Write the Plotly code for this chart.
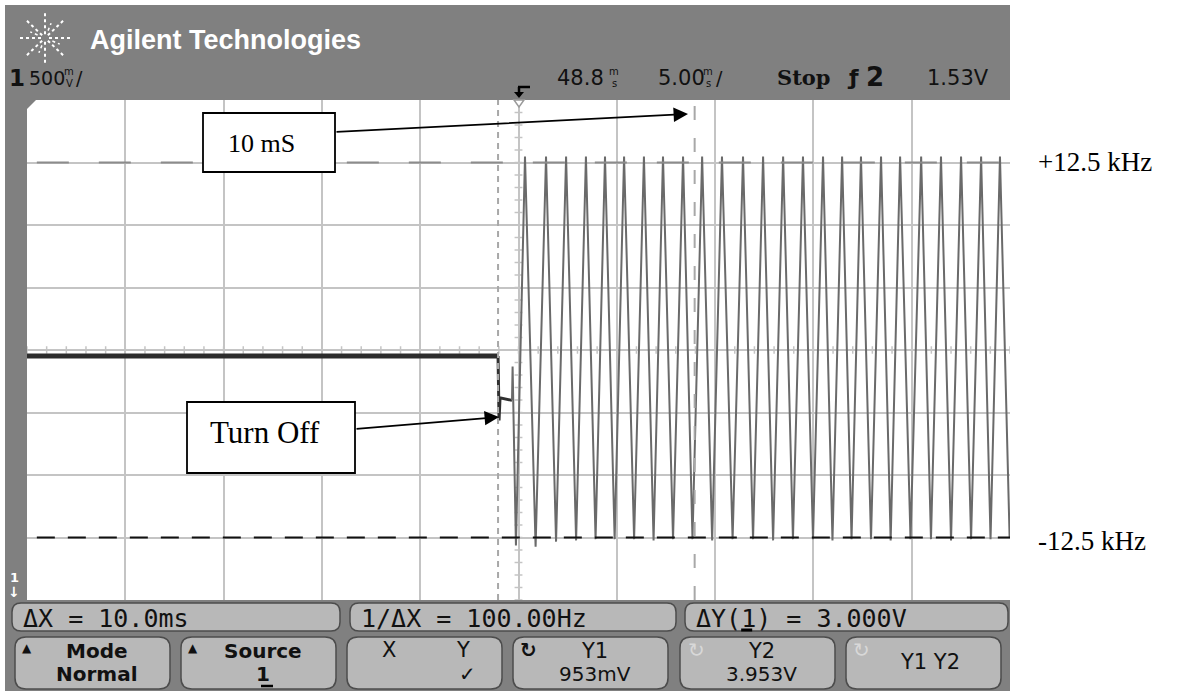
import math
import plotly.graph_objects as go

W, H = 1187, 691
L, R, T, B = 27, 1010, 100, 600   # white screen area in page pixels

# ---------------- data (time in ms, 5 ms/div; volts, 500 mV/div) ----------------
x_range = [0.0, 50.0]
y_range = [0.453, 4.453]

pre_t = [0.0, 23.96]
pre_v = [2.405, 2.405]

turnoff_t = [23.96, 24.01, 24.06, 24.67]
turnoff_v = [2.405, 1.89, 2.07, 2.05]

start_t = [24.67, 24.70]
start_v = [2.05, 2.32]

trough_t = [24.87, 25.87, 26.91, 27.93, 28.92, 29.89, 30.88, 31.87, 32.86, 33.85,
            34.85, 35.89, 36.93, 37.95, 38.96, 39.98, 40.97, 41.94, 42.93, 43.93,
            44.94, 45.98, 47.00, 48.02, 49.01, 49.98]
trough_v = [0.89, 0.88, 0.92, 0.93, 0.94, 0.94, 0.94, 0.93, 0.94, 0.94,
            0.93, 0.94, 0.94, 0.93, 0.94, 0.94, 0.93, 0.94, 0.94, 0.93,
            0.94, 0.94, 0.93, 0.94, 0.94, 0.95]
peak_t = [25.33, 26.40, 27.42, 28.43, 29.40, 30.37, 31.38, 32.35, 33.37, 34.34,
          35.35, 36.42, 37.44, 38.46, 39.47, 40.49, 41.46, 42.42, 43.44, 44.41,
          45.48, 46.49, 47.51, 48.53, 49.49]
peak_v = [4.00, 4.00, 4.00, 4.00, 4.00, 4.00, 4.00, 4.00, 4.00, 4.00,
          4.00, 4.00, 4.00, 4.00, 4.00, 4.00, 4.00, 4.00, 4.00, 4.00,
          4.00, 4.00, 4.00, 4.00, 4.00]

cursor_x = [23.96, 33.96]     # X1, X2 (ΔX = 10.0 ms)
cursor_y = [0.953, 3.953]     # Y1, Y2 (ΔY = 3.000 V)
trigger_t = 25.0
center_v = 2.453

header_title = "Agilent Technologies"
row1_labels = ["ΔX = 10.0ms", "1/ΔX = 100.00Hz", "ΔY(1) = 3.000V"]
btn_top = ["Mode", "Source", "", "Y1", "Y2", "Y1 Y2"]
btn_bot = ["Normal", "1", "", "953mV", "3.953V", ""]

# ---------------- build waveform from the read vertices ----------------
osc_t = list(start_t)
osc_v = list(start_v)
for i in range(len(trough_t)):
    osc_t.append(trough_t[i]); osc_v.append(trough_v[i])
    if i < len(peak_t):
        osc_t.append(peak_t[i]); osc_v.append(peak_v[i])


def px(X):
    return (X - L) / (R - L)


def py(Y):
    return (B - Y) / (B - T)


fig = go.Figure()
fig.add_trace(go.Scatter(x=pre_t, y=pre_v, mode="lines",
                         line=dict(color="#2c2c2c", width=5), hoverinfo="skip"))
fig.add_trace(go.Scatter(x=turnoff_t, y=turnoff_v, mode="lines",
                         line=dict(color="#303030", width=3), hoverinfo="skip"))
fig.add_trace(go.Scatter(x=osc_t, y=osc_v, mode="lines",
                         line=dict(color="#6a6a6a", width=2), hoverinfo="skip"))

shapes = []
annos = []

# outer gray bezel and white screen
shapes.append(dict(type="rect", xref="paper", yref="paper", layer="below",
                   x0=px(5), x1=px(R), y0=py(H + 5), y1=py(5),
                   fillcolor="#808080", line=dict(width=0)))
shapes.append(dict(type="rect", xref="paper", yref="paper", layer="below",
                   x0=0, x1=1, y0=0, y1=1, fillcolor="white", line=dict(width=0)))
# cut corner top-left
shapes.append(dict(type="path", xref="paper", yref="paper", layer="above",
                   path=f"M {px(L)} {py(T)} L {px(L+9)} {py(T)} L {px(L)} {py(T+9)} Z",
                   fillcolor="#808080", line=dict(width=0)))

# center axes minor ticks
gray = "#c4c4c4"
for k in range(0, 51):
    t = k * 1.0
    shapes.append(dict(type="line", xref="x", yref="y", layer="below",
                       x0=t, x1=t, y0=center_v - 0.03, y1=center_v + 0.03,
                       line=dict(color=gray, width=1.5)))
for k in range(0, 41):
    v = y_range[0] + k * 0.1
    shapes.append(dict(type="line", xref="x", yref="y", layer="below",
                       x0=trigger_t - 0.2, x1=trigger_t + 0.2, y0=v, y1=v,
                       line=dict(color=gray, width=1.5)))

# cursors
shapes.append(dict(type="line", xref="x", yref="paper", x0=cursor_x[0], x1=cursor_x[0],
                   y0=0, y1=1, line=dict(color="#a8a8a8", width=2, dash="6px,5px")))
shapes.append(dict(type="line", xref="x", yref="paper", x0=cursor_x[1], x1=cursor_x[1],
                   y0=0, y1=1, line=dict(color="#a8a8a8", width=2, dash="14px,18px")))
shapes.append(dict(type="line", xref="paper", yref="y", x0=0.01, x1=1, y0=cursor_y[1],
                   y1=cursor_y[1], line=dict(color="#8c8c8c", width=2, dash="32px,30px")))
shapes.append(dict(type="line", xref="paper", yref="y", x0=0.01, x1=1, y0=cursor_y[0],
                   y1=cursor_y[0], line=dict(color="#111111", width=2, dash="18px,13px")))

# trigger marker on top of the grid
shapes.append(dict(type="path", xref="paper", yref="paper",
                   path=f"M {px(514)} {py(100)} L {px(524)} {py(100)} L {px(519)} {py(107)} Z",
                   fillcolor="white", line=dict(color="#9a9a9a", width=1.5)))
# trigger symbol in header
shapes.append(dict(type="line", xref="paper", yref="paper", x0=px(518), x1=px(530),
                   y0=py(87), y1=py(87), line=dict(color="black", width=2.5)))
shapes.append(dict(type="line", xref="paper", yref="paper", x0=px(519), x1=px(519),
                   y0=py(87), y1=py(93), line=dict(color="black", width=2.5)))
shapes.append(dict(type="path", xref="paper", yref="paper",
                   path=f"M {px(514)} {py(92)} L {px(524)} {py(92)} L {px(519)} {py(98)} Z",
                   fillcolor="black", line=dict(width=0)))

# logo starburst
cx, cy = 45, 38
for a in range(0, 360, 45):
    ca, sa = math.cos(math.radians(a)), math.sin(math.radians(a))
    shapes.append(dict(type="line", xref="paper", yref="paper",
                       x0=px(cx + 4 * ca), x1=px(cx + 27 * ca),
                       y0=py(cy + 4 * sa * 0.95), y1=py(cy + 27 * sa * 0.95),
                       line=dict(color="white", width=2, dash="dot")))
for a in range(0, 360, 90):
    ca, sa = math.cos(math.radians(a + 22.5)), math.sin(math.radians(a + 22.5))
    shapes.append(dict(type="line", xref="paper", yref="paper",
                       x0=px(cx + 8 * ca), x1=px(cx + 16 * ca),
                       y0=py(cy + 8 * sa), y1=py(cy + 16 * sa),
                       line=dict(color="white", width=1.5, dash="dot")))


def rrect(x0, y0, x1, y1, r, fill="#b8b8b8", line="#4c4c4c"):
    rx = r
    p = (f"M {px(x0+rx)} {py(y0)} L {px(x1-rx)} {py(y0)} "
         f"Q {px(x1)} {py(y0)} {px(x1)} {py(y0+r)} L {px(x1)} {py(y1-r)} "
         f"Q {px(x1)} {py(y1)} {px(x1-rx)} {py(y1)} L {px(x0+rx)} {py(y1)} "
         f"Q {px(x0)} {py(y1)} {px(x0)} {py(y1-r)} L {px(x0)} {py(y0+r)} "
         f"Q {px(x0)} {py(y0)} {px(x0+rx)} {py(y0)} Z")
    return dict(type="path", xref="paper", yref="paper", path=p,
                fillcolor=fill, line=dict(color=line, width=1.5))


def text(X, Y, s, size=20, color="#111111", family="DejaVu Sans", xanchor="left",
         yanchor="middle", bold=False):
    if bold:
        s = f"<b>{s}</b>"
    annos.append(dict(x=px(X), y=py(Y), xref="paper", yref="paper", text=s,
                      showarrow=False, xanchor=xanchor, yanchor=yanchor,
                      font=dict(size=size, color=color, family=family)))


# header texts
text(88, 40, header_title, size=27, color="white", family="Liberation Sans", bold=True)
text(7, 78, "1", size=23, family="DejaVu Sans", bold=True)
text(27, 78, "500", size=19)
text(69, 72, "m", size=10, xanchor="center")
text(69, 84, "V", size=10, xanchor="center")
text(74, 78, "/", size=19)
text(555, 78, "48.8", size=21)
text(614, 72, "m", size=10, xanchor="center")
text(614, 84, "s", size=10, xanchor="center")
text(656, 78, "5.00", size=21)
text(708, 72, "m", size=10, xanchor="center")
text(708, 84, "s", size=10, xanchor="center")
text(714, 78, "/", size=19)
text(775, 78, "Stop", size=21, family="DejaVu Serif", bold=True)
text(845, 78, "ƒ", size=22, bold=True)
text(864, 77, "2", size=26, bold=True)
text(925, 78, "1.53V", size=21)

# channel ground marker
text(14, 577, "1", size=13, color="white", xanchor="center", bold=True)
text(14, 592, "↓", size=14, color="white", xanchor="center", bold=True)

# bottom softkey row 1
mono = "DejaVu Sans Mono"
row1_boxes = [(12, 340), (350, 676), (685, 1008)]
for (x0, x1), lab in zip(row1_boxes, row1_labels):
    shapes.append(rrect(x0, 603, x1, 631, 9))
    text(x0 + 9, 618, lab, size=25, family=mono)
cw = 0.602 * 25
shapes.append(dict(type="line", xref="paper", yref="paper",
                   x0=px(694 + 3 * cw + 2), x1=px(694 + 4 * cw - 2),
                   y0=py(630), y1=py(630), line=dict(color="black", width=3)))

# bottom softkey row 2
btn_x = [(15, 170), (181, 336), (347, 502), (513, 668), (680, 835), (846, 1001)]
for i, ((x0, x1), top, bot) in enumerate(zip(btn_x, btn_top, btn_bot)):
    shapes.append(rrect(x0, 637, x1, 689, 11))
    c = (x0 + x1) / 2
    if bot:
        text(c + 4, 651, top, size=20 if i < 2 else 21, xanchor="center", bold=(i < 2))
        text(c + 4, 674, bot, size=20, xanchor="center", bold=(i < 2))
    elif top:
        text(c + 6, 662, top, size=21, xanchor="center")
text(20, 648, "▲", size=12)
text(186, 648, "▲", size=12)
text(389, 650, "X", size=21, xanchor="center")
text(463, 650, "Y", size=21, xanchor="center")
text(467, 674, "✓", size=20, xanchor="center")
text(518, 650, "↻", size=20, bold=True)
text(686, 650, "↻", size=20, color="#d8d8d8")
text(851, 650, "↻", size=20, color="#d8d8d8")
shapes.append(dict(type="line", xref="paper", yref="paper", x0=px(261), x1=px(273),
                   y0=py(686), y1=py(686), line=dict(color="black", width=2.5)))

# callout boxes
shapes.append(dict(type="rect", xref="paper", yref="paper", x0=px(203), x1=px(335),
                   y0=py(172), y1=py(113), fillcolor="white",
                   line=dict(color="black", width=1.8)))
text(226, 143, "10 mS", size=26, color="black", family="Liberation Serif")
shapes.append(dict(type="rect", xref="paper", yref="paper", x0=px(187), x1=px(355),
                   y0=py(473), y1=py(402), fillcolor="white",
                   line=dict(color="black", width=1.8)))
text(208, 433, "Turn Off", size=31, color="black", family="Liberation Serif")

annos.append(dict(x=px(688), y=py(114), xref="paper", yref="paper", text="",
                  showarrow=True, ax=335 - 688, ay=132 - 114, axref="pixel", ayref="pixel",
                  arrowhead=2, arrowsize=1.6, arrowwidth=1.8, arrowcolor="black",
                  standoff=0, startstandoff=0))
annos.append(dict(x=px(499), y=py(417), xref="paper", yref="paper", text="",
                  showarrow=True, ax=355 - 499, ay=429 - 417, axref="pixel", ayref="pixel",
                  arrowhead=2, arrowsize=1.6, arrowwidth=1.8, arrowcolor="black",
                  standoff=0, startstandoff=0))

# right-side labels
text(1036, 162, "+12.5 kHz", size=27, color="black", family="Liberation Serif")
text(1036, 541, "-12.5 kHz", size=27, color="black", family="Liberation Serif")

fig.update_layout(
    width=W, height=H,
    margin=dict(l=L, r=W - R, t=T, b=H - B, pad=0),
    paper_bgcolor="white", plot_bgcolor="white",
    showlegend=False,
    shapes=shapes, annotations=annos,
    xaxis=dict(range=x_range, showgrid=True, gridcolor=gray, gridwidth=2,
               tick0=0, dtick=5, showticklabels=False, ticks="", zeroline=False,
               showline=False, fixedrange=True),
    yaxis=dict(range=y_range, showgrid=True, gridcolor=gray, gridwidth=2,
               tick0=y_range[0], dtick=0.5, showticklabels=False, ticks="",
               zeroline=False, showline=False, fixedrange=True),
)

fig.write_html("out.html", config=dict(displayModeBar=False),
               post_script="document.body.style.margin='0px';"
                           "document.body.style.overflow='hidden';")
